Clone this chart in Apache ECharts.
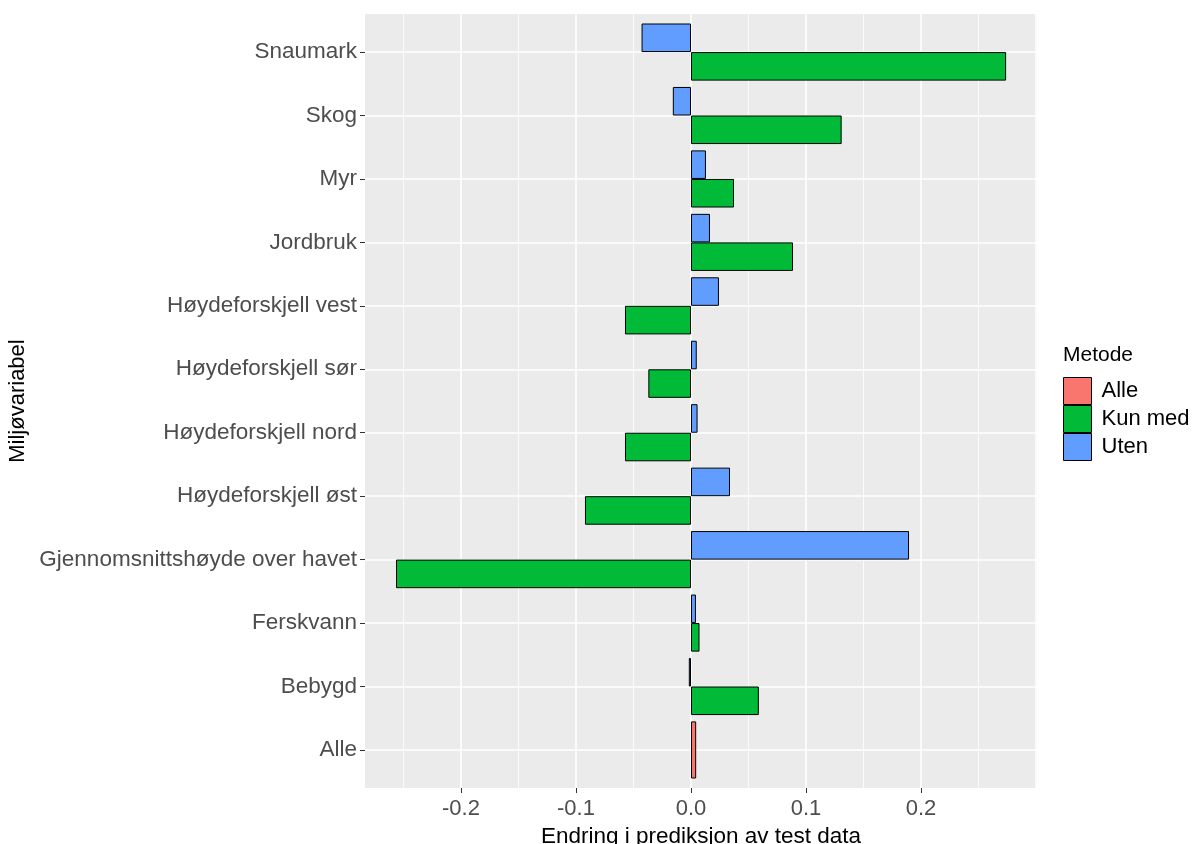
<!DOCTYPE html>
<html>
<head>
<meta charset="utf-8">
<script src="https://cdn.jsdelivr.net/npm/echarts@6/dist/echarts.min.js"></script>
<style>html,body{margin:0;padding:0;background:#fff}#c{width:1195px;height:844px}</style>
</head>
<body>
<div id="c"></div>
<script>
// Categories bottom to top
const categories = ['Alle', 'Bebygd', 'Ferskvann', 'Gjennomsnittshøyde over havet', 'Høydeforskjell øst',
  'Høydeforskjell nord', 'Høydeforskjell sør', 'Høydeforskjell vest', 'Jordbruk', 'Myr', 'Skog', 'Snaumark'];
const uten    = [null, -0.0019, 0.0043, 0.1896, 0.0339, 0.0057, 0.0050, 0.0243, 0.0165, 0.0130, -0.0158, -0.0430];
const kunMed  = [null, 0.0590, 0.0074, -0.2565, -0.0922, -0.0574, -0.0371, -0.0574, 0.0887, 0.0374, 0.1310, 0.2740];
const alle    = [0.0045, null, null, null, null, null, null, null, null, null, null, null];
const xTicks  = [-0.2, -0.1, 0.0, 0.1, 0.2];

const FONT = "'Liberation Sans', Arial, sans-serif";
const XMIN = -0.28348, XMAX = 0.30087;

const chart = echarts.init(document.getElementById('c'), null, {renderer: 'canvas'});
chart.setOption({
  animation: false,
  textStyle: {fontFamily: FONT},
  title: {
    text: 'Metode', left: 1063, top: 345, padding: 0,
    textStyle: {fontFamily: FONT, fontSize: 21, fontWeight: 'normal', color: '#000'}
  },
  legend: {
    orient: 'vertical', left: 1063, top: 377, padding: 0,
    itemWidth: 28, itemHeight: 27, itemGap: 0,
    data: ['Alle', 'Kun med', 'Uten'],
    icon: 'rect',
    itemStyle: {borderColor: '#000', borderWidth: 1},
    textStyle: {fontFamily: FONT, fontSize: 22, color: '#000', padding: [0, 0, 0, 5]}
  },
  grid: [
    {left: 365, top: 14, width: 672, height: 774, show: true, backgroundColor: '#EBEBEB', borderWidth: 0,
      outerBoundsMode: 'none', containLabel: false},
    {left: 346, top: 14, width: 690, height: 774, show: false, outerBoundsMode: 'none', containLabel: false},
    {left: 365, top: 52.06, width: 672, height: 697.9, show: false, outerBoundsMode: 'none', containLabel: false}
  ],
  xAxis: [
    {
      type: 'value', gridIndex: 0, min: XMIN, max: XMAX,
      axisLine: {show: false, onZero: false},
      axisTick: {show: true, length: 5, customValues: xTicks, lineStyle: {color: '#333', width: 1}},
      axisLabel: {customValues: xTicks, margin: 10, fontSize: 22, color: '#4D4D4D', fontFamily: FONT,
        formatter: v => v.toFixed(1)},
      splitLine: {show: false},
      name: 'Endring i prediksjon av test data', nameLocation: 'middle', nameGap: 33,
      nameTextStyle: {fontSize: 22.5, color: '#000', fontFamily: FONT}
    },
    {
      type: 'value', gridIndex: 1, min: -0.3, max: 0.3, interval: 0.1,
      axisLine: {show: false, onZero: false}, axisTick: {show: false}, axisLabel: {show: false},
      splitLine: {show: true, lineStyle: {color: '#fff', width: 1.6}},
      minorTick: {show: false, splitNumber: 2},
      minorSplitLine: {show: true, lineStyle: {color: '#fff', width: 0.8}}
    },
    {type: 'value', gridIndex: 2, min: XMIN, max: XMAX, show: false, axisLine: {onZero: false}}
  ],
  yAxis: [
    {type: 'value', gridIndex: 0, show: false, axisLine: {onZero: false}},
    {type: 'value', gridIndex: 1, show: false, axisLine: {onZero: false}},
    {
      type: 'category', gridIndex: 2, data: categories, boundaryGap: false,
      axisLine: {show: false, onZero: false},
      axisTick: {show: true, length: 5, lineStyle: {color: '#333', width: 1}},
      axisLabel: {margin: 8, fontSize: 22.5, color: '#4D4D4D', fontFamily: FONT},
      splitLine: {show: true, lineStyle: {color: '#fff', width: 1.6}},
      name: 'Miljøvariabel', nameLocation: 'middle', nameRotate: 90, nameGap: 319,
      nameTextStyle: {fontSize: 22, color: '#000', fontFamily: FONT}
    },
    {type: 'category', gridIndex: 2, data: categories, boundaryGap: false, show: false, axisLine: {onZero: false}}
  ],
  series: [
    {
      name: 'Uten', type: 'bar', xAxisIndex: 2, yAxisIndex: 2, data: uten,
      barGap: 0, barCategoryGap: '10%', clip: false,
      itemStyle: {color: '#619CFF', borderColor: '#000', borderWidth: 1}
    },
    {
      name: 'Kun med', type: 'bar', xAxisIndex: 2, yAxisIndex: 2, data: kunMed,
      barGap: 0, barCategoryGap: '10%', clip: false,
      itemStyle: {color: '#00BA38', borderColor: '#000', borderWidth: 1}
    },
    {
      name: 'Alle', type: 'bar', xAxisIndex: 2, yAxisIndex: 3, data: alle,
      barCategoryGap: '10%', clip: false,
      itemStyle: {color: '#F8766D', borderColor: '#000', borderWidth: 1}
    }
  ]
});
</script>
</body>
</html>
